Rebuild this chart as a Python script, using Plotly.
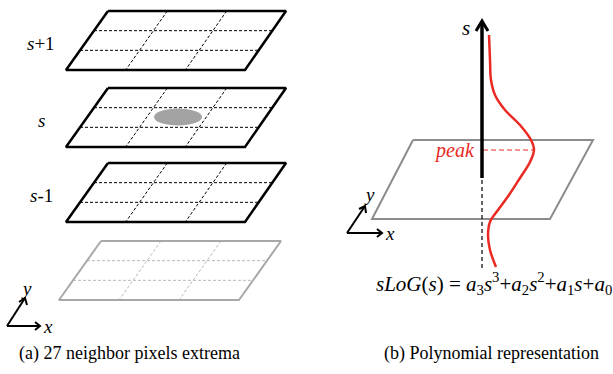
import plotly.graph_objects as go

W, H = 613, 374

# ---- data ----
layer_labels = ["<i>s</i>+1", "<i>s</i>", "<i>s</i>-1"]
layer_tops = [11, 88, 163]
ghost_top = 241
# red polynomial curve (pixel space, x, y)
curve_x = [489, 490, 491, 495, 505, 520, 531, 534, 530, 520, 509, 498, 490, 488, 490, 496]
curve_y = [35, 60, 80, 95, 110, 125, 140, 150, 162, 178, 195, 210, 222, 235, 250, 267]
caption_a = "(a) 27 neighbor pixels extrema"
caption_b = "(b) Polynomial representation"
equation = ("<i>sLoG</i>(<i>s</i>) = <i>a</i><sub>3</sub><i>s</i><sup>3</sup>+<i>a</i><sub>2</sub>"
            "<i>s</i><sup>2</sup>+<i>a</i><sub>1</sub><i>s</i>+<i>a</i><sub>0</sub>")

FONT = "Liberation Serif"
fig = go.Figure()


def seg(xs, ys, color="black", width=1, dash="solid"):
    fig.add_trace(go.Scatter(x=xs, y=ys, mode="lines", hoverinfo="skip",
                             line=dict(color=color, width=width, dash=dash),
                             showlegend=False))


def plane(top, h, tl, tr, bl, br, edge_color, edge_w, grid_color, grid_w):
    bot = top + h
    for f in (1 / 3, 2 / 3):
        xt = tl + (tr - tl) * f
        xb = bl + (br - bl) * f
        seg([xt, xb], [top, bot], grid_color, grid_w, "3px,2px")
        y = top + h * f
        xl = tl + (bl - tl) * f
        xr = tr + (br - tr) * f
        seg([xl, xr], [y, y], grid_color, grid_w, "3px,2px")
    seg([tl, tr, br, bl, tl], [top, top, bot, bot, top], edge_color, edge_w)


def txt(x, y, text, size, color="black"):
    fig.add_annotation(x=x, y=y, text=text, showarrow=False,
                       font=dict(family=FONT, size=size, color=color))


# ---- left panel ----
for lab, top in zip(layer_labels, layer_tops):
    plane(top, 59, 108, 286, 66, 245, "black", 2.5, "black", 1)
    txt(41, top + 32, lab, 19)
plane(ghost_top, 59, 101, 281, 59, 239, "#a8a8a8", 2, "#b8b8b8", 1)

# extremum blob
fig.add_shape(type="circle", x0=154, x1=202, y0=108.5, y1=125.5,
              fillcolor="#a3a3a3", line=dict(width=0), layer="above")

# xy indicator (left)
seg([7, 40], [326, 326], "black", 2)
seg([35, 40, 35], [322, 326, 330], "black", 2)
seg([7, 25], [326, 298], "black", 2)
seg([19, 25, 27], [302, 298, 305], "black", 2)
txt(26, 288, "<i>y</i>", 19)
txt(48, 326, "<i>x</i>", 19)

# ---- right panel ----
seg([413, 593, 550, 372, 413], [140, 140, 219, 219, 140], "#8c8c8c", 2)
seg([482, 482], [180, 268], "black", 1.2, "4px,3px")
seg([483, 533], [150, 150], "#f07070", 1.5, "5px,3px")
seg(curve_x, curve_y, "#ea2a22", 2.5)
fig.data[-1].line.shape = "spline"
seg([482, 482], [178, 22], "black", 3.5)
seg([476, 482, 488], [31, 21, 31], "black", 3)
txt(466, 28, "<i>s</i>", 21)
txt(454, 150, "<i>peak</i>", 20, "#ea2a22")

# xy indicator (right)
seg([347, 382], [233, 233], "black", 2)
seg([377, 382, 377], [229, 233, 237], "black", 2)
seg([347, 365], [233, 206], "black", 2)
seg([359, 365, 366], [209, 206, 213], "black", 2)
txt(369, 194, "<i>y</i>", 19)
txt(390, 233, "<i>x</i>", 19)

txt(494, 283, equation, 21)

# captions
txt(129, 353, caption_a, 18)
txt(491, 353, caption_b, 18)

fig.update_layout(width=W, height=H, margin=dict(l=0, r=0, t=0, b=0),
                  paper_bgcolor="white", plot_bgcolor="white",
                  font=dict(family=FONT),
                  xaxis=dict(range=[0, W], visible=False, fixedrange=True),
                  yaxis=dict(range=[H, 0], visible=False, fixedrange=True),
                  showlegend=False)
fig.write_html("out.html")
